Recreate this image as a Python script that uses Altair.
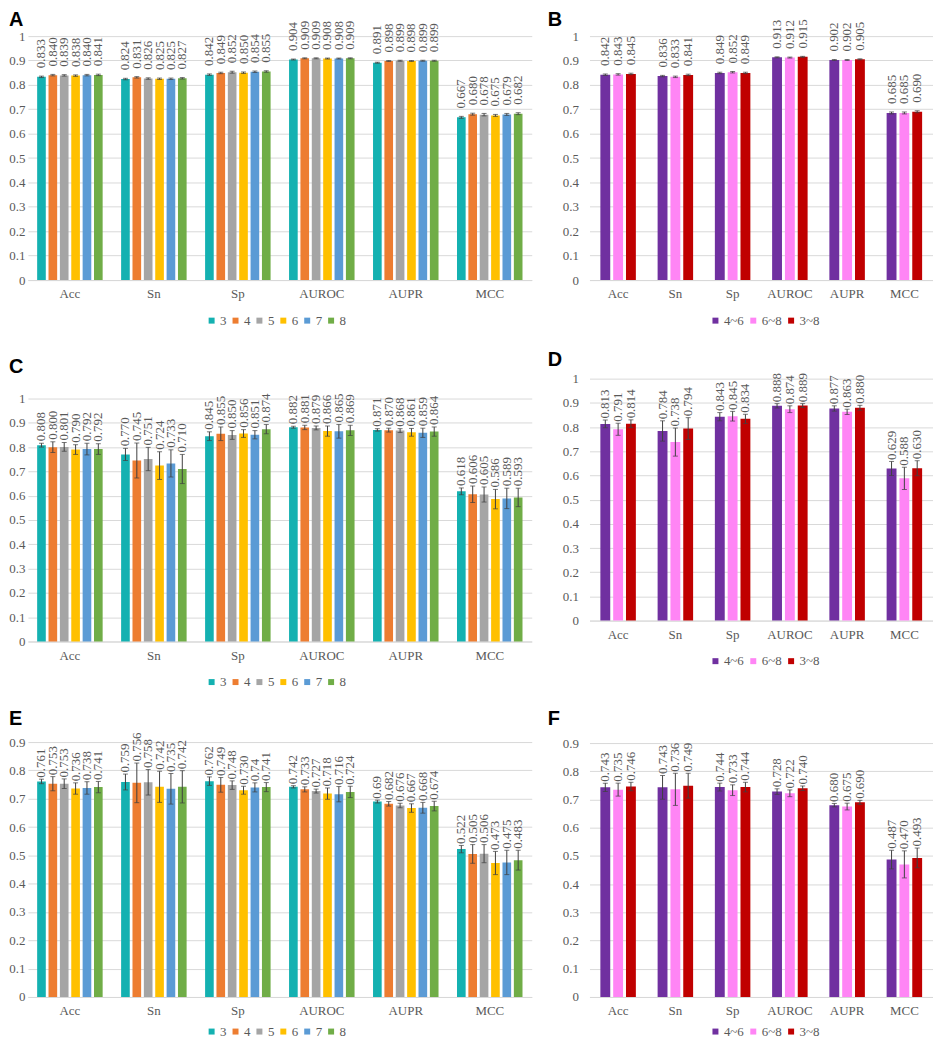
import altair as alt
import pandas as pd

METRICS = ["Acc", "Sn", "Sp", "AUROC", "AUPR", "MCC"]
WINDOWS = ["3", "4", "5", "6", "7", "8"]
RANGES = ["4~6", "6~8", "3~8"]
WINDOW_COLORS = ["#14B1B1", "#ED7D31", "#A5A5A5", "#FFC000", "#5B9BD5", "#70AD47"]
RANGE_COLORS = ["#7030A0", "#FF85F5", "#C00000"]
TICKS_1 = [0, 0.1, 0.2, 0.3, 0.4, 0.5, 0.6, 0.7, 0.8, 0.9, 1]
TICKS_09 = [0, 0.1, 0.2, 0.3, 0.4, 0.5, 0.6, 0.7, 0.8, 0.9]

# rows = metrics (Acc, Sn, Sp, AUROC, AUPR, MCC), columns = groups
A_VALUES = [
    ["0.833", "0.840", "0.839", "0.838", "0.840", "0.841"],
    ["0.824", "0.831", "0.826", "0.825", "0.825", "0.827"],
    ["0.842", "0.849", "0.852", "0.850", "0.854", "0.855"],
    ["0.904", "0.909", "0.909", "0.908", "0.908", "0.909"],
    ["0.891", "0.898", "0.899", "0.898", "0.899", "0.899"],
    ["0.667", "0.680", "0.678", "0.675", "0.679", "0.682"],
]
A_ERRORS = [
    [0.003, 0.003, 0.003, 0.003, 0.003, 0.003],
    [0.003, 0.003, 0.003, 0.003, 0.003, 0.003],
    [0.003, 0.003, 0.004, 0.003, 0.003, 0.003],
    [0.002, 0.002, 0.002, 0.002, 0.002, 0.002],
    [0.002, 0.002, 0.002, 0.002, 0.002, 0.002],
    [0.004, 0.004, 0.005, 0.004, 0.004, 0.004],
]
B_VALUES = [
    ["0.842", "0.843", "0.845"],
    ["0.836", "0.833", "0.841"],
    ["0.849", "0.852", "0.849"],
    ["0.913", "0.912", "0.915"],
    ["0.902", "0.902", "0.905"],
    ["0.685", "0.685", "0.690"],
]
B_ERRORS = [
    [0.003, 0.003, 0.003],
    [0.003, 0.003, 0.003],
    [0.003, 0.003, 0.003],
    [0.002, 0.002, 0.002],
    [0.002, 0.002, 0.002],
    [0.004, 0.004, 0.004],
]
C_VALUES = [
    ["0.808", "0.800", "0.801", "0.790", "0.792", "0.792"],
    ["0.770", "0.745", "0.751", "0.724", "0.733", "0.710"],
    ["0.845", "0.855", "0.850", "0.856", "0.851", "0.874"],
    ["0.882", "0.881", "0.879", "0.866", "0.865", "0.869"],
    ["0.871", "0.870", "0.868", "0.861", "0.859", "0.864"],
    ["0.618", "0.606", "0.605", "0.586", "0.589", "0.593"],
]
C_ERRORS = [
    [0.008, 0.022, 0.018, 0.020, 0.024, 0.022],
    [0.025, 0.072, 0.048, 0.057, 0.056, 0.060],
    [0.018, 0.028, 0.018, 0.016, 0.017, 0.019],
    [0.004, 0.009, 0.008, 0.021, 0.028, 0.021],
    [0.005, 0.008, 0.008, 0.016, 0.019, 0.019],
    [0.014, 0.034, 0.031, 0.040, 0.042, 0.038],
]
D_VALUES = [
    ["0.813", "0.791", "0.814"],
    ["0.784", "0.738", "0.794"],
    ["0.843", "0.845", "0.834"],
    ["0.888", "0.874", "0.889"],
    ["0.877", "0.863", "0.880"],
    ["0.629", "0.588", "0.630"],
]
D_ERRORS = [
    [0.016, 0.025, 0.016],
    [0.042, 0.058, 0.045],
    [0.017, 0.020, 0.019],
    [0.009, 0.014, 0.008],
    [0.011, 0.011, 0.010],
    [0.029, 0.046, 0.031],
]
E_VALUES = [
    ["0.761", "0.753", "0.753", "0.736", "0.738", "0.741"],
    ["0.759", "0.756", "0.758", "0.742", "0.735", "0.742"],
    ["0.762", "0.749", "0.748", "0.730", "0.74", "0.741"],
    ["0.742", "0.733", "0.727", "0.718", "0.716", "0.724"],
    ["0.69", "0.682", "0.676", "0.667", "0.668", "0.674"],
    ["0.522", "0.505", "0.506", "0.473", "0.475", "0.483"],
]
E_ERRORS = [
    [0.008, 0.025, 0.017, 0.020, 0.022, 0.020],
    [0.028, 0.070, 0.045, 0.055, 0.054, 0.057],
    [0.015, 0.026, 0.015, 0.014, 0.016, 0.016],
    [0.004, 0.009, 0.007, 0.020, 0.027, 0.020],
    [0.005, 0.008, 0.008, 0.015, 0.019, 0.017],
    [0.013, 0.033, 0.032, 0.041, 0.043, 0.035],
]
F_VALUES = [
    ["0.743", "0.735", "0.746"],
    ["0.743", "0.736", "0.749"],
    ["0.744", "0.733", "0.744"],
    ["0.728", "0.722", "0.740"],
    ["0.680", "0.675", "0.690"],
    ["0.487", "0.470", "0.493"],
]
F_ERRORS = [
    [0.015, 0.023, 0.015],
    [0.042, 0.057, 0.044],
    [0.014, 0.019, 0.017],
    [0.010, 0.012, 0.008],
    [0.006, 0.012, 0.007],
    [0.033, 0.048, 0.035],
]
PANEL_LETTERS = ["A", "B", "C", "D", "E", "F"]

SERIF = "Liberation Serif"
GRAY_TEXT = "#595959"
ERR_COLOR = "#404040"


def panel(letter, values, errors, groups, colors, width, height, ymax, ticks,
          letter_x, letter_y, label_dx, ylabel_pad, pad_inner, pad_outer,
          sub_pad, legend_x, legend_y):
    rows = []
    for mi, m in enumerate(METRICS):
        for gi, g in enumerate(groups):
            v = float(values[mi][gi])
            e = errors[mi][gi]
            rows.append({"metric": m, "group": g, "value": v,
                         "label": values[mi][gi], "lo": v - e, "hi": v + e})
    df = pd.DataFrame(rows)
    xenc = alt.X("metric:N", sort=METRICS, title=None,
                 scale=alt.Scale(type="band", paddingInner=pad_inner,
                                 paddingOuter=pad_outer),
                 axis=alt.Axis(labelAngle=0, labelPadding=8, domain=True,
                               domainColor="#D9D9D9", ticks=False, tickSize=0,
                               grid=False, labelFont=SERIF, labelFontSize=13,
                               labelColor=GRAY_TEXT))
    xoff = alt.XOffset("group:N", sort=groups,
                       scale=alt.Scale(type="band", domain=groups,
                                       paddingInner=sub_pad, paddingOuter=0))
    yscale = alt.Scale(domain=[0, ymax], nice=False, zero=True)
    yaxis = alt.Axis(values=ticks, format="~g", labelPadding=ylabel_pad,
                     grid=True, gridColor="#D9D9D9", gridWidth=1,
                     domain=False, ticks=False, tickSize=0,
                     labelFont=SERIF, labelFontSize=13, labelColor=GRAY_TEXT)

    def yq(field):
        return alt.Y(field, type="quantitative", scale=yscale, axis=yaxis,
                     title=None)

    base = alt.Chart(df).encode(x=xenc, xOffset=xoff)
    bars = base.mark_bar().encode(
        y=yq("value"),
        color=alt.Color("group:N", sort=groups,
                        scale=alt.Scale(domain=groups, range=colors),
                        legend=alt.Legend(orient="none", legendX=legend_x,
                                          legendY=legend_y, direction="horizontal",
                                          title=None,
                                          symbolType="square", symbolSize=36,
                                          symbolStrokeWidth=0, labelFont=SERIF,
                                          labelFontSize=13, labelColor=GRAY_TEXT,
                                          columnPadding=2, labelOffset=2,
                                          padding=0)),
    )
    rules = base.mark_rule(color=ERR_COLOR, strokeWidth=1).encode(
        y=yq("lo"), y2="hi:Q")
    cap_hi = base.mark_tick(color=ERR_COLOR, thickness=1, size=5).encode(
        y=yq("hi"))
    cap_lo = base.mark_tick(color=ERR_COLOR, thickness=1, size=5).encode(
        y=yq("lo"))
    text = base.mark_text(angle=270, align="left", baseline="middle",
                          dx=label_dx, font=SERIF, fontSize=13,
                          color=GRAY_TEXT).encode(y=yq("hi"), text="label:N")
    tag = alt.Chart(pd.DataFrame({"t": [letter]})).mark_text(
        align="left", baseline="alphabetic", font="Liberation Sans",
        fontSize=20, fontWeight="bold", color="#000000",
    ).encode(x=alt.value(letter_x), y=alt.value(letter_y), text="t:N")
    return alt.layer(bars, rules, cap_hi, cap_lo, text, tag).properties(
        width=width, height=height)


LW, RW = 506, 345

pa = panel(PANEL_LETTERS[0], A_VALUES, A_ERRORS, WINDOWS, WINDOW_COLORS, LW, 270,
           1.102, TICKS_1, -19, 15, 8, 3, 0.22, 0.11, 0.24, 178, 304)
pb = panel(PANEL_LETTERS[1], B_VALUES, B_ERRORS, RANGES, RANGE_COLORS, RW, 270,
           1.102, TICKS_1, -42, 15, 8, 11, 0.38, 0.19, 0.23, 120, 304)
pc = panel(PANEL_LETTERS[2], C_VALUES, C_ERRORS, WINDOWS, WINDOW_COLORS, LW, 295,
           1.209, TICKS_1, -19, 25, 2, 3, 0.22, 0.11, 0.24, 178, 329)
pd_ = panel(PANEL_LETTERS[3], D_VALUES, D_ERRORS, RANGES, RANGE_COLORS, RW, 274,
            1.128, TICKS_1, -42, 18, 1.5, 11, 0.38, 0.19, 0.23, 120, 308)
pe = panel(PANEL_LETTERS[4], E_VALUES, E_ERRORS, WINDOWS, WINDOW_COLORS, LW, 285,
           1.002, TICKS_09, -19, 12, 1.5, 3, 0.22, 0.11, 0.24, 178, 313)
pf = panel(PANEL_LETTERS[5], F_VALUES, F_ERRORS, RANGES, RANGE_COLORS, RW, 285,
           1.006, TICKS_09, -42, 12, 1.5, 11, 0.38, 0.19, 0.23, 120, 313)


def row(left, right):
    return alt.hconcat(left, right, spacing=16).resolve_scale(
        color="independent", xOffset="independent")


chart = (
    alt.vconcat(row(pa, pb), row(pc, pd_), row(pe, pf), spacing=20)
    .resolve_scale(color="independent", xOffset="independent")
    .properties(padding=0, background="white")
    .configure_view(stroke=None)
)

chart.save("out.html", embed_options={"renderer": "svg", "actions": False})
